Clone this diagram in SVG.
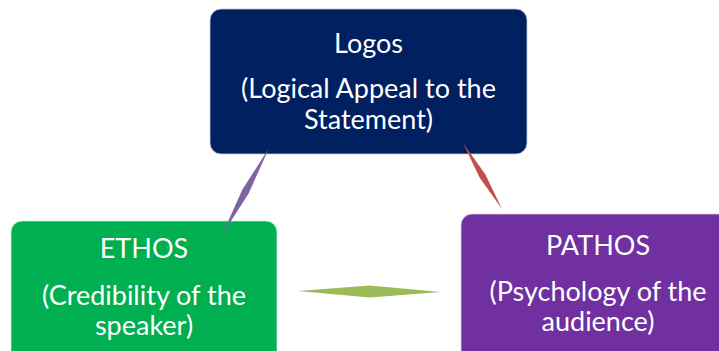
<svg xmlns="http://www.w3.org/2000/svg" width="719" height="351" viewBox="0 0 719 351">
<style>
.t{font-family:Lato,"Open Sans","Liberation Sans",sans-serif;font-size:27px;fill:#ffffff;text-anchor:middle}
</style>
<rect width="719" height="351" fill="#ffffff"/>
<g id="logos">
<rect x="210" y="9" width="317" height="145" rx="11" fill="#002060" stroke="#c8cbe0" stroke-width="0.8"/>
<text class="t" x="368.5" y="53">Logos</text>
<text class="t" x="368.5" y="98">(Logical Appeal to the</text>
<text class="t" x="368.5" y="129">Statement)</text>
</g>
<g id="ethos">
<rect x="11" y="221" width="266" height="150" rx="11" fill="#00B050" stroke="#d0ecd8" stroke-width="0.8"/>
<text class="t" x="144" y="258">ETHOS</text>
<text class="t" x="144" y="305">(Credibility of the</text>
<text class="t" x="144" y="335">speaker)</text>
</g>
<g id="pathos">
<rect x="461" y="214" width="280" height="160" rx="11" fill="#7030A0" stroke="#ddd0ea" stroke-width="0.8"/>
<text class="t" x="598" y="255">PATHOS</text>
<text class="t" x="598" y="301">(Psychology of the</text>
<text class="t" x="598" y="331">audience)</text>
</g>
<g id="connectors">
<path d="M269,148 L248.6,193.4 L222,235 L242.4,189.6 Z" fill="#8064A2"/>
<path d="M463,143 L485.3,174.2 L502,209 L479.7,177.8 Z" fill="#C0504D"/>
<path d="M298,291 L369.5,285.5 L441,292 L369.5,297.5 Z" fill="#9BBB59"/>
</g>
</svg>
